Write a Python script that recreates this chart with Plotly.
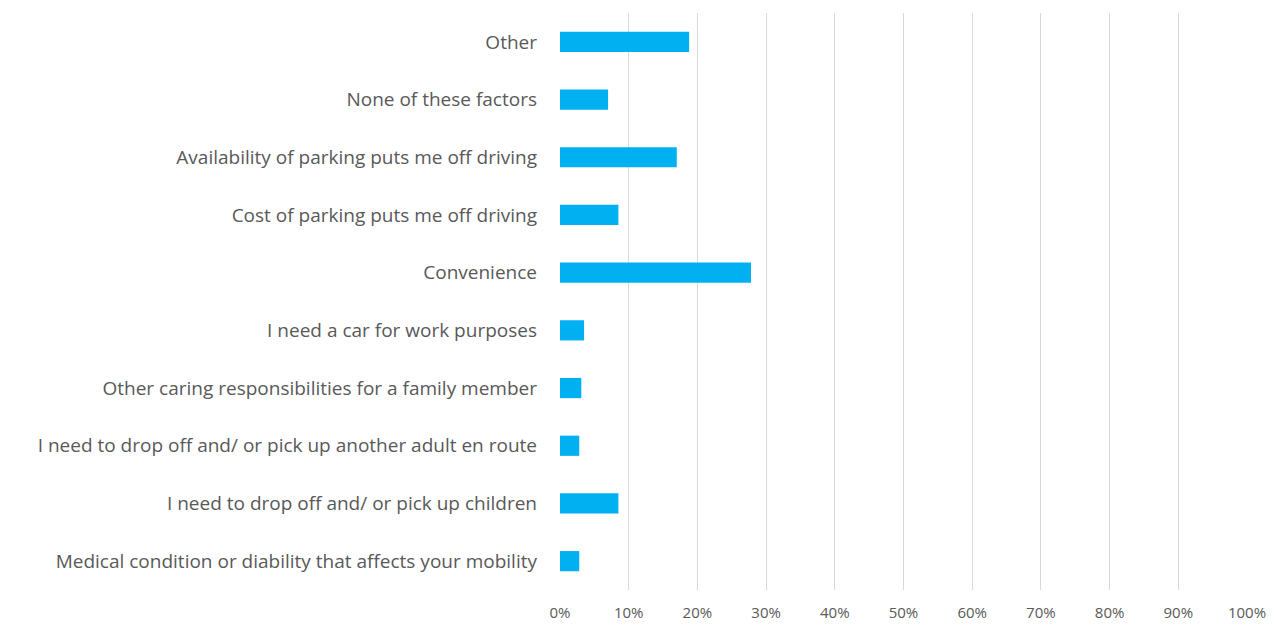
import plotly.graph_objects as go

categories = [
    "Medical condition or diability that affects your mobility",
    "I need to drop off and/ or pick up children",
    "I need to drop off and/ or pick up another adult en route",
    "Other caring responsibilities for a family member",
    "I need a car for work purposes",
    "Convenience",
    "Cost of parking puts me off driving",
    "Availability of parking puts me off driving",
    "None of these factors",
    "Other",
]
values = [0.028, 0.085, 0.028, 0.031, 0.035, 0.278, 0.085, 0.170, 0.070, 0.188]
tick_vals = [i / 10 for i in range(11)]
tick_text = [f"{i * 10}%" for i in range(11)]

fig = go.Figure(go.Bar(
    x=values, y=categories, orientation="h",
    marker=dict(color="#00B0F0", line=dict(width=0)),
))
fig.update_layout(
    width=1279, height=625,
    margin=dict(l=560, r=32, t=13, b=35, autoexpand=False),
    paper_bgcolor="white", plot_bgcolor="white",
    font=dict(family="Open Sans", color="#595959"),
    bargap=0.65,
    showlegend=False,
    xaxis=dict(range=[0, 1], tickvals=tick_vals, ticktext=tick_text,
               showgrid=True, gridcolor="#D9D9D9", gridwidth=1,
               zeroline=False, showline=False, ticks="",
               ticklabelstandoff=12, automargin=False,
               tickfont=dict(size=15, color="#595959"), fixedrange=True),
    yaxis=dict(showgrid=False, zeroline=False, showline=False, ticks="",
               ticklabelstandoff=22, automargin=False,
               tickfont=dict(size=19, color="#595959"), fixedrange=True),
)
fig.write_html("out.html")
